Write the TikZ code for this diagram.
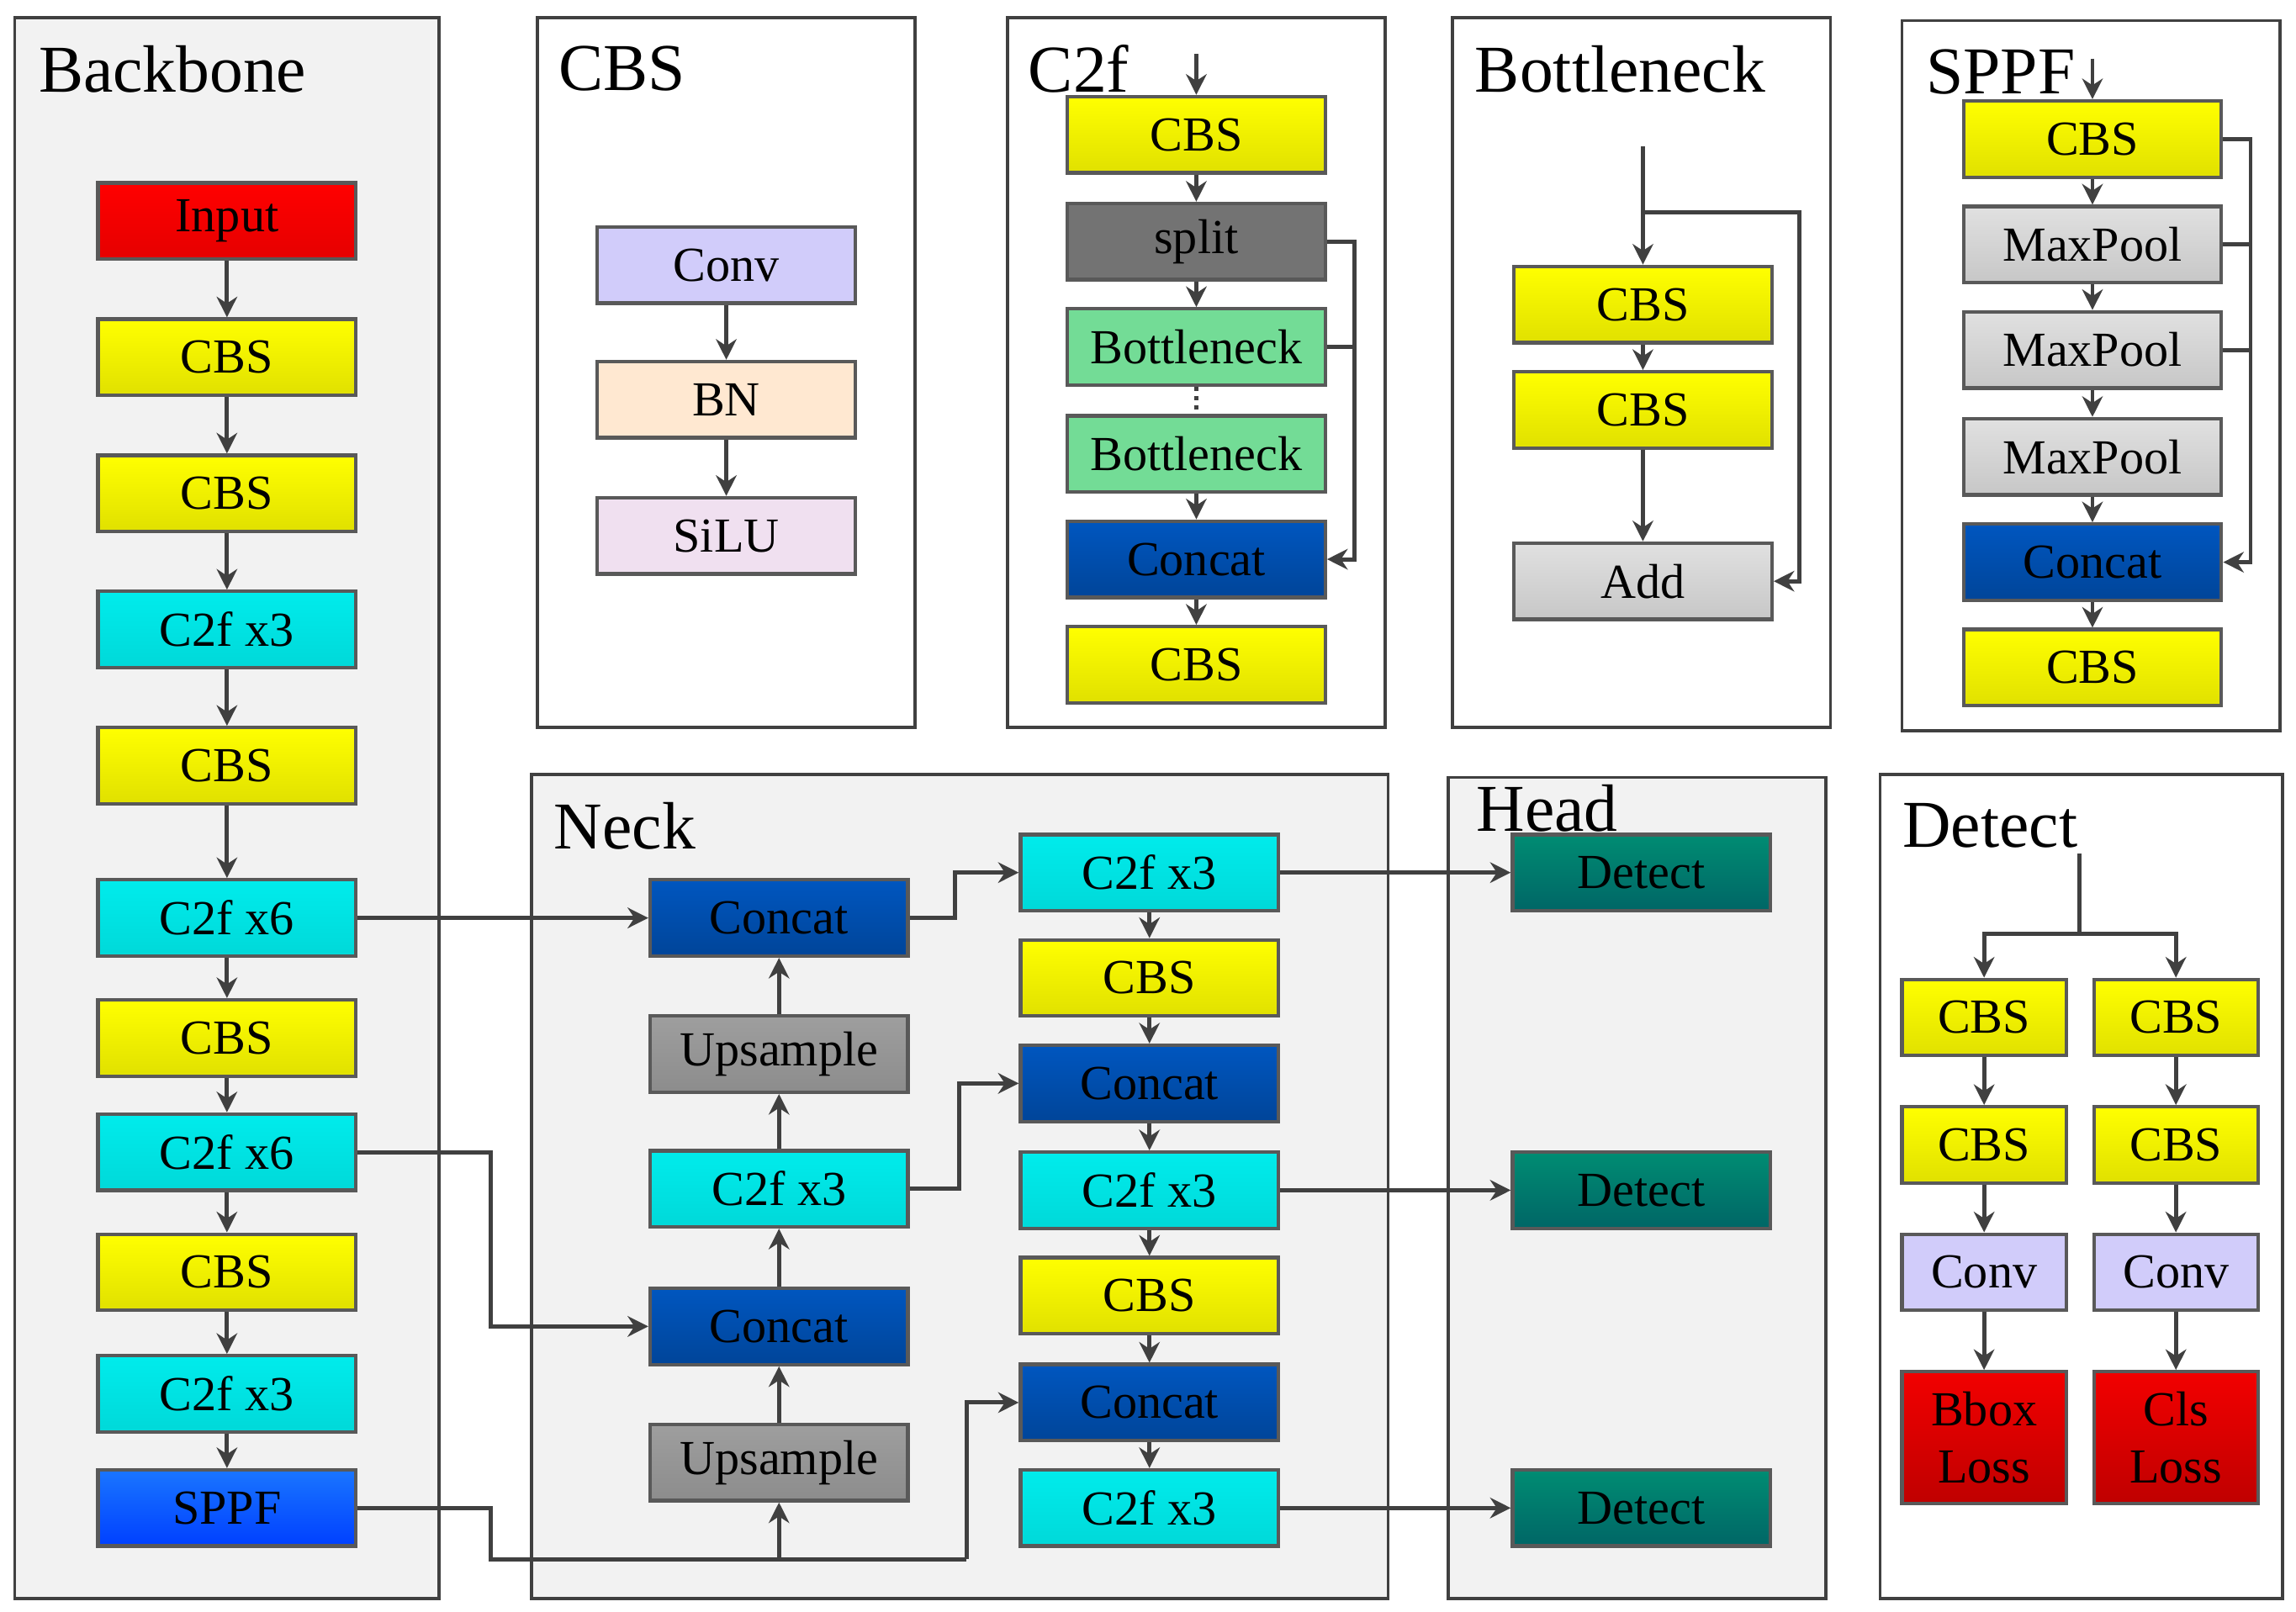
\documentclass[tikz,border=0pt]{standalone}
\usepackage{fontspec}
\setmainfont{Liberation Serif}
\usetikzlibrary{arrows.meta}
\begin{document}
\begin{tikzpicture}[x=0.01cm,y=-0.01cm,
 panel/.style={draw=black!75,line width=0.6pt},
 gp/.style={panel,fill=black!5},
 wp/.style={panel,fill=white},
 ttl/.style={anchor=west,font=\fontsize{13}{15}\selectfont},
 box/.style={draw=black!65,line width=0.7pt,minimum width=1.76cm,minimum height=0.52cm,inner sep=0pt,font=\fontsize{9.5}{11}\selectfont},
 sbox/.style={box,minimum width=1.12cm},
 cbs/.style={box,top color=yellow,bottom color=yellow!88!black},
 c2f/.style={box,top color=cyan!85!teal,bottom color=cyan!70!teal},
 cat/.style={box,top color=cyan!45!blue!75!black,bottom color=cyan!45!blue!60!black},
 ups/.style={box,top color=black!38,bottom color=black!45},
 det/.style={box,top color=teal!90!green,bottom color=teal!80!black},
 mp/.style={box,top color=black!12,bottom color=black!22},
 ar/.style={draw=black!75,line width=0.8pt,-{Stealth[length=4pt,width=4pt]}},
 ln/.style={draw=black!75,line width=0.8pt}]
\useasboundingbox (0,0) rectangle (1568,1101);
% panels
\draw[gp] (10,12) rectangle (300,1092);
\draw[wp] (367,12) rectangle (625,497);
\draw[wp] (688,12) rectangle (946,497);
\draw[wp] (992,12) rectangle (1250,497);
\draw[wp] (1299,14) rectangle (1557,499);
\draw[gp] (363,529) rectangle (948,1092);
\draw[gp] (989,531) rectangle (1247,1092);
\draw[wp] (1284,529) rectangle (1559,1092);
\node[ttl] at (14,47) {Backbone};
\node[ttl] at (369,47) {CBS};
\node[ttl] at (690,47) {C2f};
\node[ttl] at (995,47) {Bottleneck};
\node[ttl] at (1303,49) {SPPF};
\node[ttl] at (366,564) {Neck};
\node[ttl] at (996,552) {Head};
\node[ttl] at (1287,564) {Detect};
% backbone
\node[box,top color=red,bottom color=red!90!black] (in) at (155,151) {Input};
\node[cbs] (b1) at (155,244) {CBS};
\node[cbs] (b2) at (155,337) {CBS};
\node[c2f] (b3) at (155,430) {C2f x3};
\node[cbs] (b4) at (155,523) {CBS};
\node[c2f] (b5) at (155,627) {C2f x6};
\node[cbs] (b6) at (155,709) {CBS};
\node[c2f] (b7) at (155,787) {C2f x6};
\node[cbs] (b8) at (155,869) {CBS};
\node[c2f] (b9) at (155,952) {C2f x3};
\node[box,top color=blue!60!cyan!90,bottom color=blue!75!cyan] (sp) at (155,1030) {SPPF};
\foreach \a/\b in {in/b1,b1/b2,b2/b3,b3/b4,b4/b5,b5/b6,b6/b7,b7/b8,b8/b9,b9/sp} \draw[ar] (\a) -- (\b);
% CBS
\node[box,fill=violet!20!blue!20!white] (cv) at (496,181) {Conv};
\node[box,fill=orange!18] (bn) at (496,273) {BN};
\node[box,fill=violet!12] (si) at (496,366) {SiLU};
\draw[ar] (cv)--(bn); \draw[ar] (bn)--(si);
% C2f
\coordinate (c0) at (817,37);
\node[cbs] (c1) at (817,92) {CBS};
\node[box,fill=black!55] (c2) at (817,165) {split};
\node[box,fill=green!50!teal!55] (c3) at (817,237) {Bottleneck};
\node[box,fill=green!50!teal!55] (c4) at (817,310) {Bottleneck};
\node[cat] (c5) at (817,382) {Concat};
\node[cbs] (c6) at (817,454) {CBS};
\draw[ar] (c0)--(c1); \draw[ar] (c1)--(c2); \draw[ar] (c2)--(c3);
\draw[ln,densely dotted] (c3)--(c4); \draw[ar] (c4)--(c5); \draw[ar] (c5)--(c6);
\draw[ar] (c2.east) -| (925,382) -- (c5.east);
\draw[ln] (c3.east) -- (925,237);
% Bottleneck
\coordinate (k0) at (1122,100);
\node[cbs] (k1) at (1122,208) {CBS};
\node[cbs] (k2) at (1122,280) {CBS};
\node[mp] (k3) at (1122,397) {Add};
\draw[ar] (k0)--(k1); \draw[ar] (k1)--(k2); \draw[ar] (k2)--(k3);
\draw[ar] (1122,145) -- (1229,145) -- (1229,397) -- (k3.east);
% SPPF
\coordinate (s0) at (1429,40);
\node[cbs] (s1) at (1429,95) {CBS};
\node[mp] (s2) at (1429,167) {MaxPool};
\node[mp] (s3) at (1429,239) {MaxPool};
\node[mp] (s4) at (1429,312) {MaxPool};
\node[cat] (s5) at (1429,384) {Concat};
\node[cbs] (s6) at (1429,456) {CBS};
\draw[ar] (s0)--(s1); \foreach \a/\b in {s1/s2,s2/s3,s3/s4,s4/s5,s5/s6} \draw[ar] (\a)--(\b);
\draw[ar] (s1.east) -| (1537,384) -- (s5.east);
\draw[ln] (s2.east) -- (1537,167); \draw[ln] (s3.east) -- (1537,239);
% Neck
\node[cat] (n1) at (532,627) {Concat};
\node[ups] (n2) at (532,720) {Upsample};
\node[c2f] (n3) at (532,812) {C2f x3};
\node[cat] (n4) at (532,906) {Concat};
\node[ups] (n5) at (532,999) {Upsample};
\node[c2f] (m1) at (785,596) {C2f x3};
\node[cbs] (m2) at (785,668) {CBS};
\node[cat] (m3) at (785,740) {Concat};
\node[c2f] (m4) at (785,813) {C2f x3};
\node[cbs] (m5) at (785,885) {CBS};
\node[cat] (m6) at (785,958) {Concat};
\node[c2f] (m7) at (785,1030) {C2f x3};
\foreach \a/\b in {m1/m2,m2/m3,m3/m4,m4/m5,m5/m6,m6/m7} \draw[ar] (\a)--(\b);
\foreach \a/\b in {n5/n4,n4/n3,n3/n2,n2/n1} \draw[ar] (\a)--(\b);
\draw[ar] (b5.east) -- (n1.west);
\draw[ar] (b7.east) -- (335,787) -- (335,906) -- (n4.west);
\draw[ln] (sp.east) -- (335,1030) -- (335,1065) -- (660,1065);
\draw[ar] (532,1065) -- (n5.south);
\draw[ar] (660,1065) -- (660,958) -- (m6.west);
\draw[ar] (n1.east) -- (652,627) -- (652,596) -- (m1.west);
\draw[ar] (n3.east) -- (655,812) -- (655,740) -- (m3.west);
% Head
\node[det] (h1) at (1121,596) {Detect};
\node[det] (h2) at (1121,813) {Detect};
\node[det] (h3) at (1121,1030) {Detect};
\draw[ar] (m1)--(h1); \draw[ar] (m4)--(h2); \draw[ar] (m7)--(h3);
% Detect
\coordinate (d0) at (1420,583);
\node[sbox,top color=yellow,bottom color=yellow!88!black] (l1) at (1355,695) {CBS};
\node[sbox,top color=yellow,bottom color=yellow!88!black] (l2) at (1355,782) {CBS};
\node[sbox,fill=violet!20!blue!20!white] (l3) at (1355,869) {Conv};
\node[sbox,minimum height=0.9cm,align=center,top color=red!95!black,bottom color=red!75!black] (l4) at (1355,982) {Bbox\\Loss};
\node[sbox,top color=yellow,bottom color=yellow!88!black] (r1) at (1486,695) {CBS};
\node[sbox,top color=yellow,bottom color=yellow!88!black] (r2) at (1486,782) {CBS};
\node[sbox,fill=violet!20!blue!20!white] (r3) at (1486,869) {Conv};
\node[sbox,minimum height=0.9cm,align=center,top color=red!95!black,bottom color=red!75!black] (r4) at (1486,982) {Cls\\Loss};
\draw[ln] (d0) -- (1420,638);
\draw[ar] (1420,638) -| (l1.north);
\draw[ar] (1420,638) -| (r1.north);
\foreach \a/\b in {l1/l2,l2/l3,l3/l4,r1/r2,r2/r3,r3/r4} \draw[ar] (\a)--(\b);
\end{tikzpicture}
\end{document}
